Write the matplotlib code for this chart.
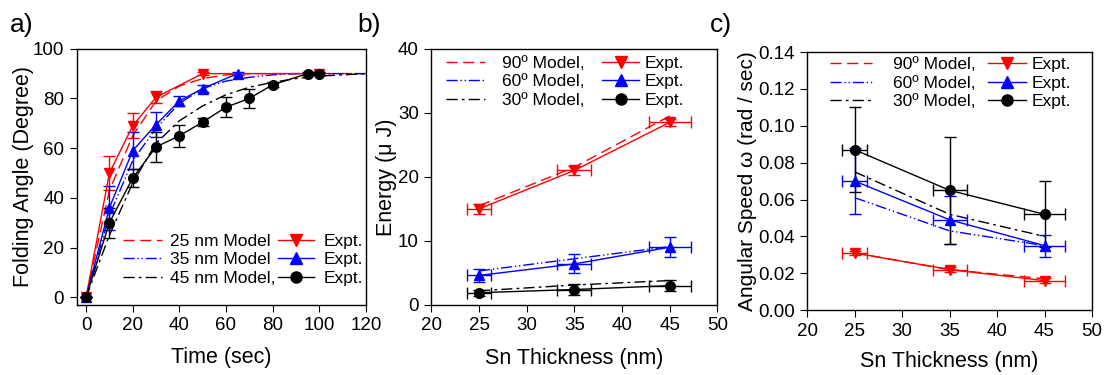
import matplotlib
matplotlib.use("Agg")
import matplotlib.pyplot as plt
from matplotlib.lines import Line2D

plt.rcParams['font.family'] = ['Liberation Sans', 'DejaVu Sans']

# ---- panel a: folding angle vs time ----
t_model = [0, 10, 20, 30, 40, 50, 60, 70, 80, 90, 100, 110, 120]
model_25 = [0, 43, 65, 79, 85, 88, 89.5, 90, 90, 90, 90, 90, 90]
model_35 = [0, 33, 55, 68, 78, 84, 87, 88.5, 89.5, 90, 90, 90, 90]
model_45 = [0, 25, 46, 62, 71, 77, 81.5, 84.5, 86.5, 88, 89, 89.5, 90]

t_25 = [0, 10, 20, 30, 50, 100]
ang_25 = [0, 50, 69, 80.5, 90, 90]
err_25 = [0, 7, 5, 2.5, 0.5, 0.5]

t_35 = [0, 10, 20, 30, 40, 50, 65]
ang_35 = [0, 36, 59, 69.5, 79, 84, 90]
err_35 = [0, 9, 7.5, 5, 2, 1.5, 0.5]

t_45 = [0, 10, 20, 30, 40, 50, 60, 70, 80, 95, 100]
ang_45 = [0, 30, 48, 60.5, 65, 70.5, 76.5, 80, 85.5, 90, 90]
err_45 = [0, 6, 3.5, 6, 4.5, 1.5, 4, 4, 1, 0.5, 0.5]

# ---- panels b, c: vs Sn thickness ----
thick = [25, 35, 45]
thick_err = [1.3, 1.8, 2.2]

energy_model_90 = [15.5, 21.5, 29.5]
energy_model_60 = [5.3, 7.2, 9.1]
energy_model_30 = [2.2, 3.1, 3.8]
energy_90 = [15, 21, 28.5]
energy_90_err = [0.8, 0.7, 0.5]
energy_60 = [4.6, 6.4, 9.0]
energy_60_err = [1.0, 1.5, 1.6]
energy_30 = [1.9, 2.4, 3.0]
energy_30_err = [0.5, 0.8, 0.9]

speed_model_90 = [0.031, 0.022, 0.017]
speed_model_60 = [0.061, 0.043, 0.035]
speed_model_30 = [0.075, 0.052, 0.040]
speed_90 = [0.031, 0.022, 0.016]
speed_90_err = [0.0012, 0.0012, 0.0012]
speed_60 = [0.070, 0.049, 0.035]
speed_60_err = [0.018, 0.013, 0.006]
speed_30 = [0.087, 0.065, 0.052]
speed_30_err = [0.023, 0.029, 0.018]

model_labels_a = ['25 nm Model', '35 nm Model', '45 nm Model,']
model_labels_bc = ['90\u00ba Model,', '60\u00ba Model,', '30\u00ba Model,']

RED, BLUE, BLACK = '#ff0000', '#0000ff', '#000000'
COLORS = [RED, BLUE, BLACK]
MARKERS = ['v', '^', 'o']
STYLES = [(0, (8, 4)), (0, (8, 2, 1, 2, 1, 2)), (0, (8, 3, 2, 3))]

fig = plt.figure(figsize=(11.12, 3.75), dpi=100)
ax_a = fig.add_axes([0.069, 0.187, 0.260, 0.683])
ax_b = fig.add_axes([0.388, 0.187, 0.257, 0.683])
ax_c = fig.add_axes([0.726, 0.173, 0.256, 0.688])

ebk = dict(capsize=4, elinewidth=1.0, capthick=1.0, lw=1.0, ms=7)


def style(ax):
    ax.tick_params(direction='out', labelsize=13.5, length=5, pad=4, top=False, right=False)
    for s in ax.spines.values():
        s.set_linewidth(1.0)


def legends(ax, labels, x_model, x_expt, y, mlen, mpad, elen, epad):
    mh = [Line2D([], [], color=c, ls=s, lw=1) for c, s in zip(COLORS, STYLES)]
    eh = [Line2D([], [], color=c, marker=m, ms=8, lw=1) for c, m in zip(COLORS, MARKERS)]
    common = dict(loc='center left', frameon=False, fontsize=12.5, borderpad=0,
                  borderaxespad=0, labelspacing=0.2)
    l1 = ax.legend(mh, labels, bbox_to_anchor=(x_model, y), handlelength=mlen,
                   handletextpad=mpad, **common)
    ax.add_artist(l1)
    ax.legend(eh, ['Expt.'] * 3, bbox_to_anchor=(x_expt, y), handlelength=elen,
              handletextpad=epad, **common)


# panel a
for tm, ym, c, s in zip([t_model] * 3, [model_25, model_35, model_45], COLORS, STYLES):
    ax_a.plot(tm, ym, color=c, ls=s, lw=1)
for tx, yx, ex, c, m in zip([t_25, t_35, t_45], [ang_25, ang_35, ang_45],
                            [err_25, err_35, err_45], COLORS, MARKERS):
    ax_a.errorbar(tx, yx, yerr=ex, color=c, marker=m, **ebk)
ax_a.set_xlim(-4, 120)
ax_a.set_ylim(-3, 100)
ax_a.set_xticks(range(0, 121, 20))
ax_a.set_yticks(range(0, 101, 20))
ax_a.set_xlabel('Time (sec)', fontsize=15.5, labelpad=9)
ax_a.set_ylabel('Folding Angle (Degree)', fontsize=15.5, labelpad=-1)
style(ax_a)
legends(ax_a, model_labels_a, 0.159, 0.696, 0.176, 2.25, 0.45, 2.1, 0.55)

# panel b
for ym, c, s in zip([energy_model_90, energy_model_60, energy_model_30], COLORS, STYLES):
    ax_b.plot(thick, ym, color=c, ls=s, lw=1)
for yx, ex, c, m in zip([energy_90, energy_60, energy_30],
                        [energy_90_err, energy_60_err, energy_30_err], COLORS, MARKERS):
    ax_b.errorbar(thick, yx, yerr=ex, xerr=thick_err, color=c, marker=m, **ebk)
ax_b.set_xlim(20, 50)
ax_b.set_ylim(0, 40)
ax_b.set_xticks(range(20, 51, 5))
ax_b.set_yticks(range(0, 41, 10))
ax_b.set_xlabel('Sn Thickness (nm)', fontsize=15.5, labelpad=10)
ax_b.set_ylabel('Energy (\u03bc J)', fontsize=15.5, labelpad=1)
style(ax_b)
legends(ax_b, model_labels_bc, 0.052, 0.598, 0.871, 2.2, 1.0, 2.1, 0.35)

# panel c
for ym, c, s in zip([speed_model_90, speed_model_60, speed_model_30], COLORS, STYLES):
    ax_c.plot(thick, ym, color=c, ls=s, lw=1)
for yx, ex, c, m in zip([speed_90, speed_60, speed_30],
                        [speed_90_err, speed_60_err, speed_30_err], COLORS, MARKERS):
    ax_c.errorbar(thick, yx, yerr=ex, xerr=thick_err, color=c, marker=m, **ebk)
ax_c.set_xlim(20, 50)
ax_c.set_ylim(0, 0.14)
ax_c.set_xticks(range(20, 51, 5))
ax_c.set_yticks([0, 0.02, 0.04, 0.06, 0.08, 0.10, 0.12, 0.14])
ax_c.set_yticklabels(['%.2f' % v for v in ax_c.get_yticks()])
ax_c.set_xlabel('Sn Thickness (nm)', fontsize=15.5, labelpad=8)
ax_c.set_ylabel('Angular Speed \u03c9 (rad / sec)', fontsize=15, labelpad=1)
style(ax_c)
legends(ax_c, model_labels_bc, 0.081, 0.635, 0.880, 2.4, 1.2, 2.2, 0.3)

fig.text(0.009, 0.915, 'a)', fontsize=19)
fig.text(0.321, 0.915, 'b)', fontsize=19)
fig.text(0.638, 0.915, 'c)', fontsize=19)

fig.savefig('out.png', dpi=100)
